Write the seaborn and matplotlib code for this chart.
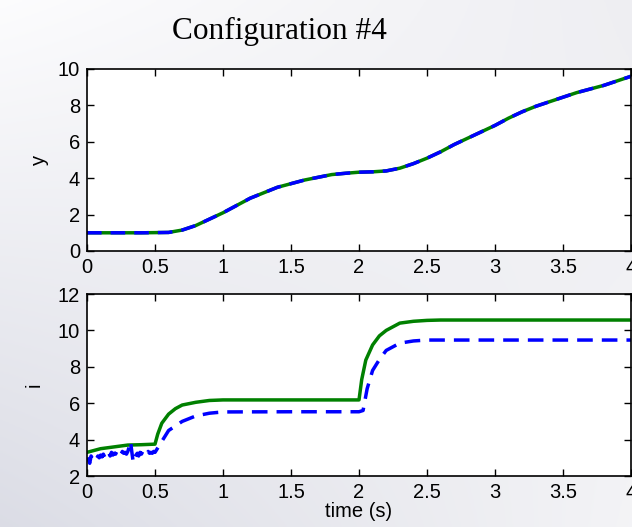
import numpy as np
import pandas as pd
import matplotlib
matplotlib.use("Agg")
import matplotlib.pyplot as plt
import seaborn as sns

# ---- data ----
t_y = [0.0, 0.2, 0.4, 0.6, 0.7, 0.8, 0.9, 1.0, 1.1, 1.2, 1.3, 1.4, 1.5, 1.6, 1.7, 1.8,
       1.9, 2.0, 2.1, 2.2, 2.3, 2.4, 2.5, 2.6, 2.7, 2.8, 2.9, 3.0, 3.1, 3.2, 3.3, 3.4,
       3.5, 3.6, 3.7, 3.8, 3.9, 4.0]
y_ref = [1.0, 1.0, 1.0, 1.02, 1.15, 1.4, 1.75, 2.1, 2.5, 2.9, 3.2, 3.5, 3.7, 3.9, 4.05, 4.2,
         4.27, 4.33, 4.35, 4.4, 4.55, 4.8, 5.1, 5.45, 5.85, 6.2, 6.55, 6.9, 7.3, 7.65, 7.95, 8.2,
         8.45, 8.7, 8.9, 9.1, 9.35, 9.6]
y_meas = y_ref

t_ig = [0.0, 0.05, 0.1, 0.15, 0.2, 0.3, 0.4, 0.5, 0.52, 0.55, 0.6, 0.65, 0.7, 0.8, 0.9,
        1.0, 1.5, 2.0, 2.02, 2.05, 2.1, 2.15, 2.2, 2.3, 2.4, 2.5, 2.6, 3.0, 3.5, 4.0]
i_green = [3.3, 3.4, 3.5, 3.55, 3.6, 3.7, 3.72, 3.75, 4.3, 4.9, 5.4, 5.7, 5.9, 6.05, 6.15,
           6.18, 6.18, 6.18, 7.3, 8.37, 9.2, 9.7, 10.0, 10.4, 10.5, 10.55, 10.57, 10.57, 10.57, 10.57]

t_ib = [0.0, 0.01, 0.02, 0.03, 0.04, 0.05, 0.06, 0.07, 0.08, 0.09, 0.1, 0.11, 0.12, 0.13,
        0.14, 0.15, 0.16, 0.17, 0.18, 0.19, 0.2, 0.21, 0.22, 0.23, 0.24, 0.25, 0.26, 0.27,
        0.28, 0.29, 0.3, 0.31, 0.32, 0.33, 0.34, 0.35, 0.36, 0.37, 0.38, 0.39, 0.4, 0.41,
        0.42, 0.43, 0.44, 0.45, 0.46, 0.47, 0.48, 0.49, 0.5,
        0.55, 0.6, 0.7, 0.8, 0.9, 1.0, 1.5, 2.0, 2.03, 2.06, 2.1, 2.15, 2.2, 2.3, 2.4,
        2.5, 3.0, 3.5, 4.0]
i_blue = [3.0, 2.9, 2.7, 3.1, 2.95, 3.05, 3.1, 2.95, 3.1, 3.0, 3.15, 3.05, 3.2, 3.05,
          3.2, 3.1, 3.25, 3.1, 3.3, 3.15, 3.25, 3.2, 3.35, 3.2, 3.3, 3.2, 3.35, 3.25,
          3.3, 3.2, 3.35, 3.6, 3.9, 3.3, 2.75, 3.0, 3.15, 3.25, 3.1, 3.3, 3.2, 3.35,
          3.25, 3.3, 3.2, 3.35, 3.25, 3.3, 3.25, 3.35, 3.3,
          3.9, 4.5, 5.0, 5.3, 5.45, 5.52, 5.53, 5.53, 5.6, 6.8, 7.8, 8.4, 8.9, 9.3, 9.42,
          9.47, 9.47, 9.47, 9.47]

x_ticks = [0, 0.5, 1, 1.5, 2, 2.5, 3, 3.5, 4]
x_labels = ["0", "0.5", "1", "1.5", "2", "2.5", "3", "3.5", "4"]

sns.set_style("ticks")
plt.rcParams['font.family'] = ['Liberation Sans', 'DejaVu Sans']
plt.rcParams['text.color'] = 'black'
plt.rcParams['axes.labelcolor'] = 'black'

W, H = 632, 527
fig = plt.figure(figsize=(W / 100, H / 100), dpi=100)

# background gradient (bilinear between corner colours)
tl = np.array([0.99, 0.99, 0.995])
tr = np.array([0.935, 0.935, 0.95])
bl = np.array([0.86, 0.865, 0.9])
br = np.array([0.955, 0.955, 0.965])
yy, xx = np.mgrid[0:1:200j, 0:1:200j]
grad = ((1 - xx)[..., None] * (1 - yy)[..., None] * tl + xx[..., None] * (1 - yy)[..., None] * tr
        + (1 - xx)[..., None] * yy[..., None] * bl + xx[..., None] * yy[..., None] * br)
bg = fig.add_axes([0, 0, 1, 1], zorder=-10)
bg.imshow(grad, aspect="auto", extent=[0, 1, 0, 1], origin="upper")
bg.axis("off")

left = 87 / W
width = (631 - 87) / W
ax1 = fig.add_axes([left, 1 - 251 / H, width, (251 - 69) / H])
ax2 = fig.add_axes([left, 1 - 476 / H, width, (476 - 294) / H])

df_y = pd.DataFrame({"t": t_y, "ref": y_ref, "meas": y_meas})
sns.lineplot(data=df_y, x="t", y="ref", ax=ax1, color="#008000", linewidth=2.5)
sns.lineplot(data=df_y, x="t", y="meas", ax=ax1, color="#0000ff", linewidth=2.5,
             linestyle=(0, (4.2, 2.6)))

df_g = pd.DataFrame({"t": t_ig, "i": i_green})
df_b = pd.DataFrame({"t": t_ib, "i": i_blue})
sns.lineplot(data=df_g, x="t", y="i", ax=ax2, color="#008000", linewidth=2.5)
sns.lineplot(data=df_b, x="t", y="i", ax=ax2, color="#0000ff", linewidth=2.5,
             linestyle=(0, (4.5, 2.6)))

for ax, ylim, yt in [(ax1, (0, 10), [0, 2, 4, 6, 8, 10]), (ax2, (2, 12), [2, 4, 6, 8, 10, 12])]:
    ax.set_facecolor("white")
    ax.set_xlim(0, 4)
    ax.set_ylim(*ylim)
    ax.set_xticks(x_ticks)
    ax.set_xticklabels(x_labels)
    ax.set_yticks(yt)
    ax.tick_params(direction="in", top=True, right=True, length=5, width=1,
                   labelsize=14.5, colors="black", pad=5)
    for s in ax.spines.values():
        s.set_visible(True)
        s.set_color("black")
        s.set_linewidth(1.2)
    ax.set_xlabel("")

ax1.set_ylabel("y", fontsize=14.5, labelpad=6)
ax2.set_ylabel("i", fontsize=14.5, labelpad=10)
ax2.set_xlabel("time (s)", fontsize=14.5, labelpad=0)

fig.text(279 / W, 1 - 31 / H, "Configuration #4", ha="center", va="center",
         fontsize=22.5, color="black", family=["Liberation Serif", "DejaVu Serif"])

fig.savefig("out.png", dpi=100)
